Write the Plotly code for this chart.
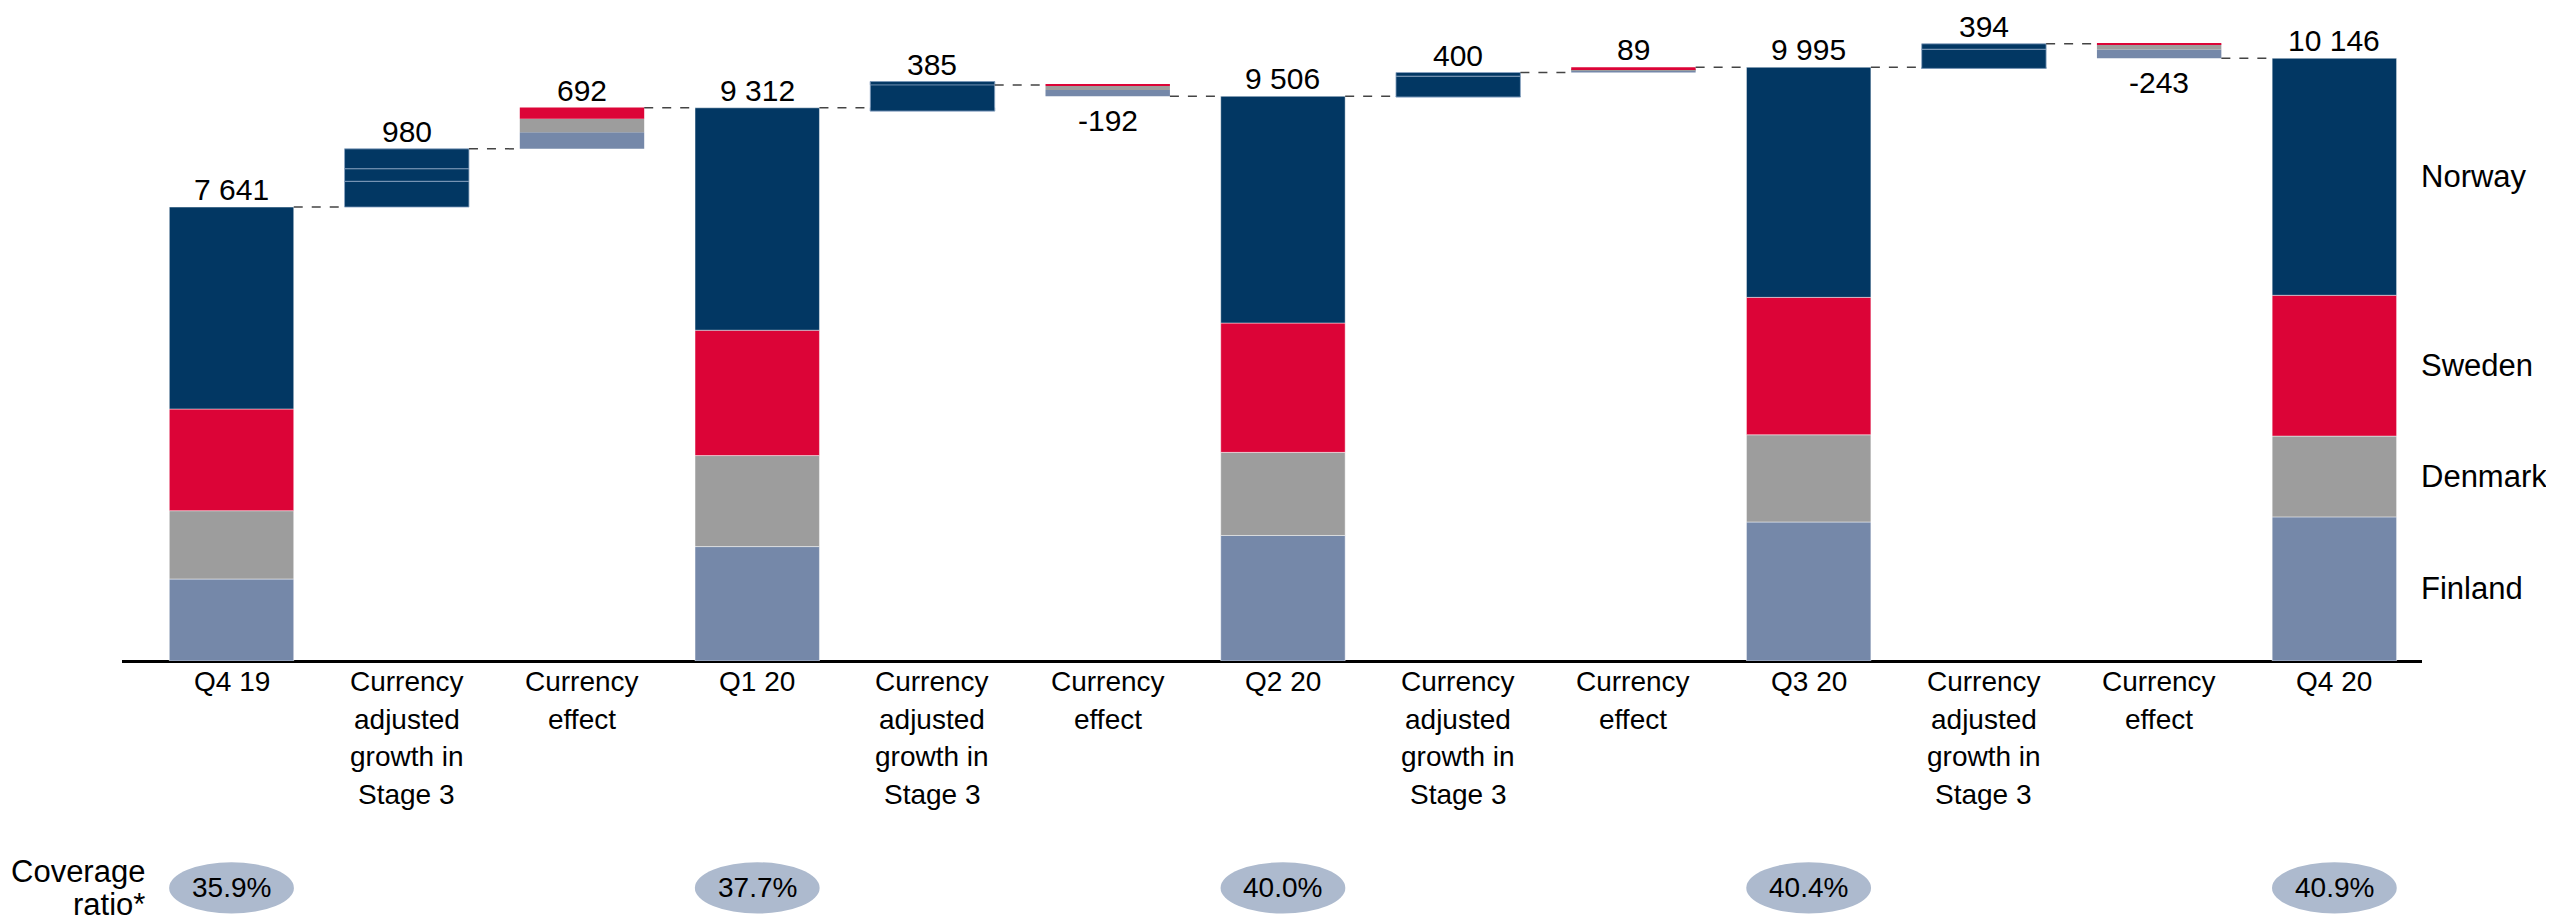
import plotly.graph_objects as go

# Categories, left to right
categories = [
    "Q4 19", "Currency\nadjusted\ngrowth in\nStage 3", "Currency\neffect",
    "Q1 20", "Currency\nadjusted\ngrowth in\nStage 3", "Currency\neffect",
    "Q2 20", "Currency\nadjusted\ngrowth in\nStage 3", "Currency\neffect",
    "Q3 20", "Currency\nadjusted\ngrowth in\nStage 3", "Currency\neffect",
    "Q4 20",
]

# Stage 3 loans per quarter, by country (stacked bottom to top)
quarter_totals = [7641, 9312, 9506, 9995, 10146]
finland = [1380, 1926, 2113, 2340, 2426]
denmark = [1150, 1532, 1399, 1468, 1360]
sweden = [1712, 2110, 2177, 2313, 2370]
norway = [3399, 3744, 3817, 3874, 3990]

# Currency adjusted growth, drawn as sequential navy pieces
growth_totals = [980, 385, 400, 394]
growth_parts = [[434, 212, 334], [-55, 497, -57], [-12, 350, 62], [-20, 323, 91]]

# Currency effect by country (Norway has none)
fx_totals = [692, -192, 89, -243]
fx_finland = [281, -106, 38, -148]
fx_denmark = [224, -70, 18, -82]
fx_sweden = [191, -16, 33, -13]

coverage = ["35.9%", "37.7%", "40.0%", "40.4%", "40.9%"]

NAVY = "#023763"
RED = "#DC0437"
GREY = "#9D9D9D"
LIGHT = "#7588A9"
OVAL = "#ADBACE"
FONT = "Liberation Sans Narrow, Arial Narrow, Liberation Sans, Arial, sans-serif"

BAR_W = 0.71
X_MIN, X_MAX = -0.625, 12.5
Y_MAX = 10790


def fmt(v):
    return f"{v:,}".replace(",", " ")


fig = go.Figure()

# quarter stacks
q_x = [3 * k for k in range(5)]
base = [0] * 5
for name, vals, col in [("Finland", finland, LIGHT), ("Denmark", denmark, GREY),
                        ("Sweden", sweden, RED), ("Norway", norway, NAVY)]:
    fig.add_bar(x=q_x, y=vals, base=list(base), width=BAR_W, marker_color=col,
                marker_line=dict(color="rgba(255,255,255,0.45)", width=1),
                name=name, showlegend=False, hoverinfo="skip")
    base = [b + v for b, v in zip(base, vals)]

# growth pieces
g_x = [3 * k + 1 for k in range(4)]
levels = list(quarter_totals[:4])
g_top = list(levels)
for j in range(3):
    ys, bs = [], []
    for k in range(4):
        v = growth_parts[k][j]
        ys.append(v)
        bs.append(levels[k])
        levels[k] += v
        g_top[k] = max(g_top[k], levels[k])
    fig.add_bar(x=g_x, y=ys, base=bs, width=BAR_W, marker_color=NAVY,
                marker_line=dict(color="rgba(140,165,195,0.8)", width=1),
                showlegend=False, hoverinfo="skip")

# currency effect stacks
f_x = [3 * k + 2 for k in range(4)]
f_start = [q + g for q, g in zip(quarter_totals[:4], growth_totals)]
f_bottom = [min(s, s + t) for s, t in zip(f_start, fx_totals)]
base = list(f_bottom)
for vals, col in [(fx_finland, LIGHT), (fx_denmark, GREY), (fx_sweden, RED)]:
    h = [abs(v) for v in vals]
    fig.add_bar(x=f_x, y=h, base=list(base), width=BAR_W, marker_color=col,
                marker_line=dict(width=0), showlegend=False, hoverinfo="skip")
    base = [b + v for b, v in zip(base, h)]

# dashed connectors
after = []
for k in range(4):
    after += [quarter_totals[k], f_start[k], quarter_totals[k + 1]]
cx, cy = [], []
for i, lv in enumerate(after):
    cx += [i + BAR_W / 2, i + 1 - BAR_W / 2, None]
    cy += [lv, lv, None]
fig.add_trace(go.Scatter(x=cx, y=cy, mode="lines", showlegend=False, hoverinfo="skip",
                         line=dict(color="#444444", width=1.5, dash="dash")))

ann = []
# value labels
for k in range(5):
    ann.append(dict(x=q_x[k], y=quarter_totals[k], text=fmt(quarter_totals[k]),
                    yanchor="bottom", yshift=-1))
for k in range(4):
    ann.append(dict(x=g_x[k], y=g_top[k], text=fmt(growth_totals[k]),
                    yanchor="bottom", yshift=-1))
    if fx_totals[k] >= 0:
        ann.append(dict(x=f_x[k], y=f_start[k] + fx_totals[k], text=fmt(fx_totals[k]),
                        yanchor="bottom", yshift=-1))
    else:
        ann.append(dict(x=f_x[k], y=f_bottom[k], text=fmt(fx_totals[k]),
                        yanchor="top", yshift=-6))
for a in ann:
    a.update(xref="x", yref="y", showarrow=False, xanchor="center",
             font=dict(family=FONT, size=30, color="#000000"))

# category labels, one line at a time
for i, cat in enumerate(categories):
    for j, line in enumerate(cat.split("\n")):
        ann.append(dict(x=i, y=0, xref="x", yref="y", text=line, showarrow=False,
                        xanchor="center", yanchor="top", yshift=-3 - 37.5 * j,
                        font=dict(family=FONT, size=28, color="#000000")))

# country labels beside the last bar
last = [finland[-1], denmark[-1], sweden[-1], norway[-1]]
cum = 0
for name, v in zip(["Finland", "Denmark", "Sweden", "Norway"], last):
    ann.append(dict(x=1, xref="paper", y=cum + v / 2, yref="y", text=name,
                    showarrow=False, xanchor="left", yanchor="middle", xshift=-3,
                    font=dict(family=FONT, size=31, color="#000000")))
    cum += v

# coverage ratio ovals
shapes = []
oval_y, oval_h = -0.354, 0.040
for k in range(5):
    px = (q_x[k] - X_MIN) / (X_MAX - X_MIN)
    hw = 0.356 / (X_MAX - X_MIN)
    shapes.append(dict(type="circle", xref="paper", yref="paper",
                       x0=px - hw, x1=px + hw, y0=oval_y - oval_h, y1=oval_y + oval_h,
                       fillcolor=OVAL, line=dict(width=0), layer="above"))
    ann.append(dict(x=px, y=oval_y, xref="paper", yref="paper", text=coverage[k],
                    showarrow=False, xanchor="center", yanchor="middle",
                    font=dict(family=FONT, size=28, color="#000000")))
for j, line in enumerate(["Coverage", "ratio*"]):
    ann.append(dict(x=0.0109, y=oval_y, xref="paper", yref="paper", text=line,
                    showarrow=False, xanchor="right", yanchor="middle",
                    yshift=16 - 33 * j,
                    font=dict(family=FONT, size=31, color="#000000")))

# page body keeps an 8px margin, so the figure is drawn 8px smaller
fig.update_layout(
    width=2546, height=915,
    margin=dict(l=114, r=132, t=12, b=262),
    plot_bgcolor="white", paper_bgcolor="white",
    barmode="overlay",
    annotations=ann, shapes=shapes,
    xaxis=dict(range=[X_MIN, X_MAX], showticklabels=False, showgrid=False,
               zeroline=False, showline=False, ticks=""),
    yaxis=dict(range=[0, Y_MAX], showticklabels=False, showgrid=False,
               zeroline=True, zerolinecolor="#000000", zerolinewidth=2.5),
)

fig.write_html("out.html")
